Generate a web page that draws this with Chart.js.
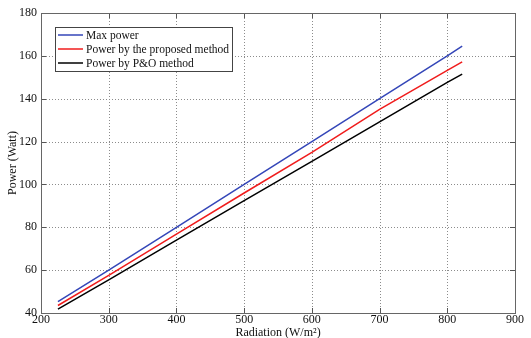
<!DOCTYPE html>
<html>
<head>
<meta charset="utf-8">
<script src="https://cdn.jsdelivr.net/npm/chart.js@4"></script>
<style>
  html, body { margin: 0; padding: 0; background: #fff; }
  #wrap { width: 531px; height: 338px; position: relative; }
</style>
</head>
<body>
<div id="wrap"><canvas id="c"></canvas></div>
<script>
// data
const radiation = [225, 300, 400, 500, 600, 700, 800, 822];
const maxPower = [45.3, 60, 80, 100, 120, 140, 160, 164.5];
const proposedPower = [43.5, 57.6, 76.8, 96, 115, 135, 153.2, 157.2];
const poPower = [41.8, 55.5, 74, 92.4, 110.8, 129.2, 147.6, 151.5];
const seriesNames = ['Max power', 'Power by the proposed method', 'Power by P&O method'];
const xTicks = [200, 300, 400, 500, 600, 700, 800, 900];
const yTicks = [40, 60, 80, 100, 120, 140, 160, 180];

const FONT = 'Liberation Serif, Times New Roman, serif';
const pts = (ys) => radiation.map((x, i) => ({x, y: ys[i]}));

// dotted grid under the lines (dots drawn one by one)
const gridPlugin = {
  id: 'dotGrid',
  beforeDatasetsDraw(chart) {
    const {ctx, chartArea: a, scales} = chart;
    ctx.save();
    ctx.fillStyle = '#8c8c8c';
    xTicks.slice(1, -1).forEach(v => {
      const px = Math.round(scales.x.getPixelForValue(v));
      for (let y = Math.round(a.top) + 2; y < a.bottom; y += 3) ctx.fillRect(px, y, 1, 1);
    });
    yTicks.slice(1, -1).forEach(v => {
      const py = Math.round(scales.y.getPixelForValue(v));
      for (let x = Math.round(a.left) + 2; x < a.right; x += 3) ctx.fillRect(x, py, 1, 1);
    });
    ctx.restore();
  }
};

// plot frame + inward ticks, matlab style
const framePlugin = {
  id: 'frame',
  afterDatasetsDraw(chart) {
    const {ctx, chartArea: a, scales} = chart;
    ctx.save();
    ctx.strokeStyle = '#555';
    ctx.lineWidth = 1;
    ctx.beginPath();
    xTicks.forEach(v => {
      const px = Math.round(scales.x.getPixelForValue(v)) + 0.5;
      ctx.moveTo(px, a.bottom); ctx.lineTo(px, a.bottom - 5);
      ctx.moveTo(px, a.top); ctx.lineTo(px, a.top + 5);
    });
    yTicks.forEach(v => {
      const py = Math.round(scales.y.getPixelForValue(v)) + 0.5;
      ctx.moveTo(a.left, py); ctx.lineTo(a.left + 5, py);
      ctx.moveTo(a.right, py); ctx.lineTo(a.right - 5, py);
    });
    ctx.stroke();
    ctx.strokeStyle = '#666';
    ctx.strokeRect(Math.round(a.left) + 0.5, Math.round(a.top) + 0.5,
                   Math.round(a.right - a.left), Math.round(a.bottom - a.top));
    ctx.restore();
  }
};

// legend box inside the plot, upper left
const boxLegend = {
  id: 'boxLegend',
  afterDraw(chart) {
    const {ctx, chartArea: a} = chart;
    const x0 = a.left + 14, y0 = a.top + 14, w = 177, h = 44;
    ctx.save();
    ctx.fillStyle = '#fff';
    ctx.fillRect(x0, y0, w, h);
    ctx.strokeStyle = '#444';
    ctx.lineWidth = 1;
    ctx.strokeRect(x0 + 0.5, y0 + 0.5, w, h);
    ctx.font = '11.5px ' + FONT;
    ctx.textBaseline = 'middle';
    chart.data.datasets.forEach((ds, i) => {
      const yy = y0 + 8 + i * 14;
      ctx.strokeStyle = ds.borderColor;
      ctx.lineWidth = 1.5;
      ctx.beginPath();
      ctx.moveTo(x0 + 3, yy); ctx.lineTo(x0 + 28, yy);
      ctx.stroke();
      ctx.fillStyle = '#111';
      ctx.fillText(ds.label, x0 + 31, yy + 1);
    });
    ctx.restore();
  }
};

function lineDs(label, ys, color) {
  return {label, data: pts(ys), borderColor: color, borderWidth: 1.5, pointRadius: 0, tension: 0, fill: false};
}

new Chart(document.getElementById('c'), {
  type: 'line',
  data: {
    datasets: [
      lineDs(seriesNames[0], maxPower, '#3446b8'),
      lineDs(seriesNames[1], proposedPower, '#f01c1c'),
      lineDs(seriesNames[2], poPower, '#000000')
    ]
  },
  options: {
    responsive: true,
    maintainAspectRatio: false,
    animation: false,
    layout: {padding: {top: 13, right: 16, left: 0, bottom: 0}},
    plugins: {legend: {display: false}, tooltip: {enabled: false}},
    scales: {
      x: {
        type: 'linear', min: 200, max: 900,
        afterBuildTicks: s => { s.ticks = xTicks.map(v => ({value: v})); },
        ticks: {color: '#111', font: {family: FONT, size: 12, lineHeight: 1}, padding: 1, maxRotation: 0},
        grid: {display: false, drawTicks: false},
        border: {display: false},
        title: {display: true, text: 'Radiation (W/m²)', color: '#111', font: {family: FONT, size: 12, lineHeight: 1}, padding: {top: 0, bottom: -1}}
      },
      y: {
        type: 'linear', min: 40, max: 180,
        afterBuildTicks: s => { s.ticks = yTicks.map(v => ({value: v})); },
        afterFit: s => { s.width = 41; },
        ticks: {color: '#111', font: {family: FONT, size: 12}, padding: 4},
        grid: {display: false, drawTicks: false},
        border: {display: false},
        title: {display: true, text: 'Power (Watt)', color: '#111', font: {family: FONT, size: 12}, padding: {top: 6, bottom: 0}}
      }
    }
  },
  plugins: [gridPlugin, framePlugin, boxLegend]
});
</script>
</body>
</html>
